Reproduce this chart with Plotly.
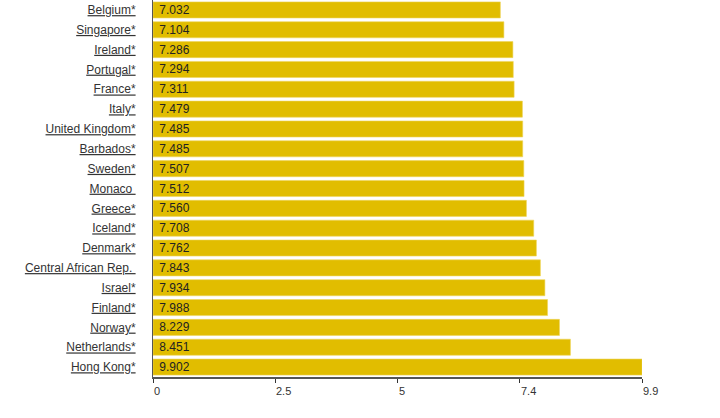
import plotly.graph_objects as go

countries = ["Belgium*", "Singapore*", "Ireland*", "Portugal*", "France*", "Italy*",
             "United Kingdom*", "Barbados*", "Sweden*", "Monaco ", "Greece*", "Iceland*",
             "Denmark*", "Central African Rep. ", "Israel*", "Finland*", "Norway*",
             "Netherlands*", "Hong Kong*"]
values = [7.032, 7.104, 7.286, 7.294, 7.311, 7.479, 7.485, 7.485, 7.507, 7.512,
          7.560, 7.708, 7.762, 7.843, 7.934, 7.988, 8.229, 8.451, 9.902]
x_tick_vals = [0, 2.475, 4.95, 7.425, 9.9]
x_tick_text = ["0", "2.5", "5", "7.4", "9.9"]

font = "Liberation Sans, Arial, sans-serif"
ids = list(range(len(countries)))

fig = go.Figure(go.Bar(
    x=values, y=ids, orientation="h",
    marker=dict(color="#E1BD00", line=dict(color="#EFD55A", width=0.6)),
    text=["\u00a0" + f"{v:.3f}" for v in values],
    textposition="inside", insidetextanchor="start",
    textfont=dict(family=font, size=12, color="#222222"),
    hoverinfo="skip",
))

annotations = []
for v, t in zip(x_tick_vals, x_tick_text):
    annotations.append(dict(x=v, y=0, xref="x", yref="paper", text=t, showarrow=False,
                            xanchor="left", yanchor="top", yshift=-6, xshift=-1,
                            font=dict(family=font, size=11, color="#333333")))

fig.update_layout(
    width=720, height=418,
    margin=dict(l=153, r=78, t=0, b=41, autoexpand=False),
    plot_bgcolor="white", paper_bgcolor="white",
    bargap=0.19, showlegend=False,
    uniformtext=dict(minsize=12, mode="show"),
    annotations=annotations,
    xaxis=dict(range=[0, 9.9], tickvals=x_tick_vals, ticktext=x_tick_text,
               showticklabels=False, ticks="outside", ticklen=4, tickcolor="#333333",
               showgrid=False, zeroline=False, showline=True, linecolor="#555555",
               linewidth=2, automargin=False),
    yaxis=dict(range=[len(countries) - 0.5, -0.5], tickvals=ids,
               ticktext=[f"<u>{c}</u>" for c in countries],
               tickfont=dict(family=font, size=12, color="#333333"),
               ticks="", ticklabelstandoff=14, showgrid=False, zeroline=False,
               showline=True, linecolor="#555555", linewidth=1, automargin=False),
)

fig.write_html("out.html", config={"displayModeBar": False},
               post_script="document.body.style.margin='0';")
